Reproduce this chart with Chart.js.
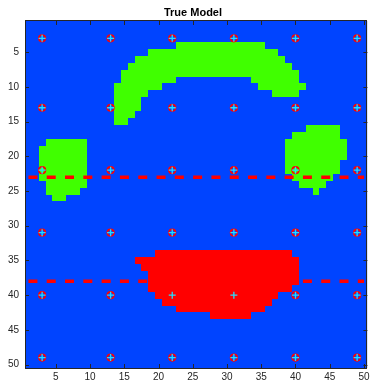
<!DOCTYPE html>
<html>
<head>
<meta charset="utf-8">
<script src="https://cdn.jsdelivr.net/npm/chart.js@4.4.0/dist/chart.umd.min.js"></script>
<style>
  html, body { margin: 0; padding: 0; background: #fff; }
</style>
</head>
<body>
<canvas id="model-chart" width="373" height="384"></canvas>
<script>
const modelChart = document.getElementById("model-chart");

const titleText = "True Model";
const xTicks = [5, 10, 15, 20, 25, 30, 35, 40, 45, 50];
const yTicks = [5, 10, 15, 20, 25, 30, 35, 40, 45, 50];

// cell runs: [row, first column, last column]
const greenRuns = [
  [4, 23, 35], [5, 19, 37], [6, 17, 38], [7, 16, 39], [8, 15, 40],
  [9, 15, 22], [9, 34, 40], [10, 14, 20], [10, 35, 41], [11, 14, 18], [11, 37, 40],
  [12, 14, 17], [13, 14, 17], [14, 14, 16], [15, 14, 15],
  [18, 4, 9], [19, 3, 9], [20, 3, 9], [21, 3, 9], [22, 3, 9], [23, 3, 9],
  [24, 4, 9], [25, 4, 8], [26, 5, 6],
  [16, 42, 46], [17, 40, 46], [18, 39, 47], [19, 39, 47], [20, 39, 47],
  [21, 39, 46], [22, 39, 46], [23, 40, 45], [24, 41, 44], [25, 43, 43],
];
const redRuns = [
  [34, 20, 39], [35, 17, 40], [36, 18, 40], [37, 19, 40], [38, 19, 40],
  [39, 19, 39], [40, 20, 37], [41, 21, 36], [42, 23, 35], [43, 28, 33],
];

// receiver positions and the two dashed lines
const markerX = [3, 13, 22, 31, 40, 49];
const markerY = [3, 13, 22, 31, 40, 49];
const lineDepths = [23, 38];
const lineStart = 1;
const lineEnd = 50;

const markers = [];
markerY.forEach(y => markerX.forEach(x => markers.push({ x: x, y: y })));

const dashedSets = lineDepths.map(d => ({
  type: "line",
  data: [{ x: lineStart, y: d }, { x: lineEnd, y: d }],
  borderColor: "#ff0000",
  borderWidth: 3.5,
  borderDash: [9, 9.3],
  pointRadius: 0,
  fill: false,
}));

const cellsPlugin = {
  id: "cells",
  beforeDatasetsDraw(chart) {
    const { ctx, chartArea: a, scales: { x, y } } = chart;
    ctx.save();
    ctx.beginPath();
    ctx.rect(a.left, a.top, a.right - a.left, a.bottom - a.top);
    ctx.clip();
    ctx.fillStyle = "#0044ff";
    ctx.fillRect(a.left, a.top, a.right - a.left, a.bottom - a.top);
    const paint = (runs, color) => {
      ctx.fillStyle = color;
      runs.forEach(([r, c0, c1]) => {
        const x0 = Math.round(x.getPixelForValue(c0 - 0.5));
        const x1 = Math.round(x.getPixelForValue(c1 + 0.5));
        const y0 = Math.round(y.getPixelForValue(r - 0.5));
        const y1 = Math.round(y.getPixelForValue(r + 0.5));
        ctx.fillRect(x0, y0, x1 - x0, y1 - y0);
      });
    };
    paint(greenRuns, "#40ff00");
    paint(redRuns, "#ff0000");
    ctx.restore();
  },
  afterDatasetsDraw(chart) {
    const { ctx, chartArea: a, scales: { x, y } } = chart;
    ctx.save();
    ctx.strokeStyle = "#262626";
    ctx.lineWidth = 1;
    ctx.beginPath();
    xTicks.forEach(v => {
      const px = Math.round(x.getPixelForValue(v)) + 0.5;
      ctx.moveTo(px, a.bottom); ctx.lineTo(px, a.bottom - 4);
      ctx.moveTo(px, a.top); ctx.lineTo(px, a.top + 4);
    });
    yTicks.forEach(v => {
      const py = Math.round(y.getPixelForValue(v)) + 0.5;
      ctx.moveTo(a.left, py); ctx.lineTo(a.left + 4, py);
      ctx.moveTo(a.right, py); ctx.lineTo(a.right - 4, py);
    });
    ctx.stroke();
    ctx.strokeRect(Math.round(a.left) + 0.5, Math.round(a.top) - 0.5,
      Math.round(a.right - a.left) - 1, Math.round(a.bottom - a.top) + 1);
    ctx.fillStyle = "#000";
    ctx.font = "bold 11px 'Liberation Sans', Arial, sans-serif";
    ctx.textAlign = "center";
    ctx.textBaseline = "middle";
    ctx.fillText(titleText, 193, 12.5);
    ctx.restore();
  },
};

new Chart(modelChart, {
  type: "scatter",
  data: {
    datasets: [
      {
        data: markers,
        pointStyle: "cross",
        pointRadius: 3.5,
        borderColor: "#22e0ff",
        borderWidth: 1.3,
      },
      {
        data: markers,
        pointStyle: "circle",
        pointRadius: 3.3,
        borderColor: "#ff0000",
        backgroundColor: "rgba(0,0,0,0)",
        borderWidth: 1.6,
      },
      ...dashedSets,
    ],
  },
  plugins: [cellsPlugin],
  options: {
    responsive: false,
    animation: false,
    devicePixelRatio: 1,
    layout: { padding: { left: 0, right: 2, top: 21, bottom: 0 } },
    plugins: {
      legend: { display: false },
      tooltip: { enabled: false },
      title: { display: false },
    },
    scales: {
      x: {
        type: "linear",
        min: 0.5,
        max: 50.5,
        afterBuildTicks: s => { s.ticks = xTicks.map(v => ({ value: v })); },
        afterFit: s => { s.height = 16; },
        grid: { display: false, drawTicks: false },
        border: { display: false },
        ticks: {
          padding: 3,
          color: "#262626",
          font: { family: "'Liberation Sans', Arial, sans-serif", size: 10 },
        },
      },
      y: {
        type: "linear",
        reverse: true,
        min: 0.5,
        max: 50.5,
        afterBuildTicks: s => { s.ticks = yTicks.map(v => ({ value: v })); },
        afterFit: s => { s.width = 25; },
        grid: { display: false, drawTicks: false },
        border: { display: false },
        ticks: {
          padding: 6,
          color: "#262626",
          font: { family: "'Liberation Sans', Arial, sans-serif", size: 10 },
        },
      },
    },
  },
});
</script>
</body>
</html>
